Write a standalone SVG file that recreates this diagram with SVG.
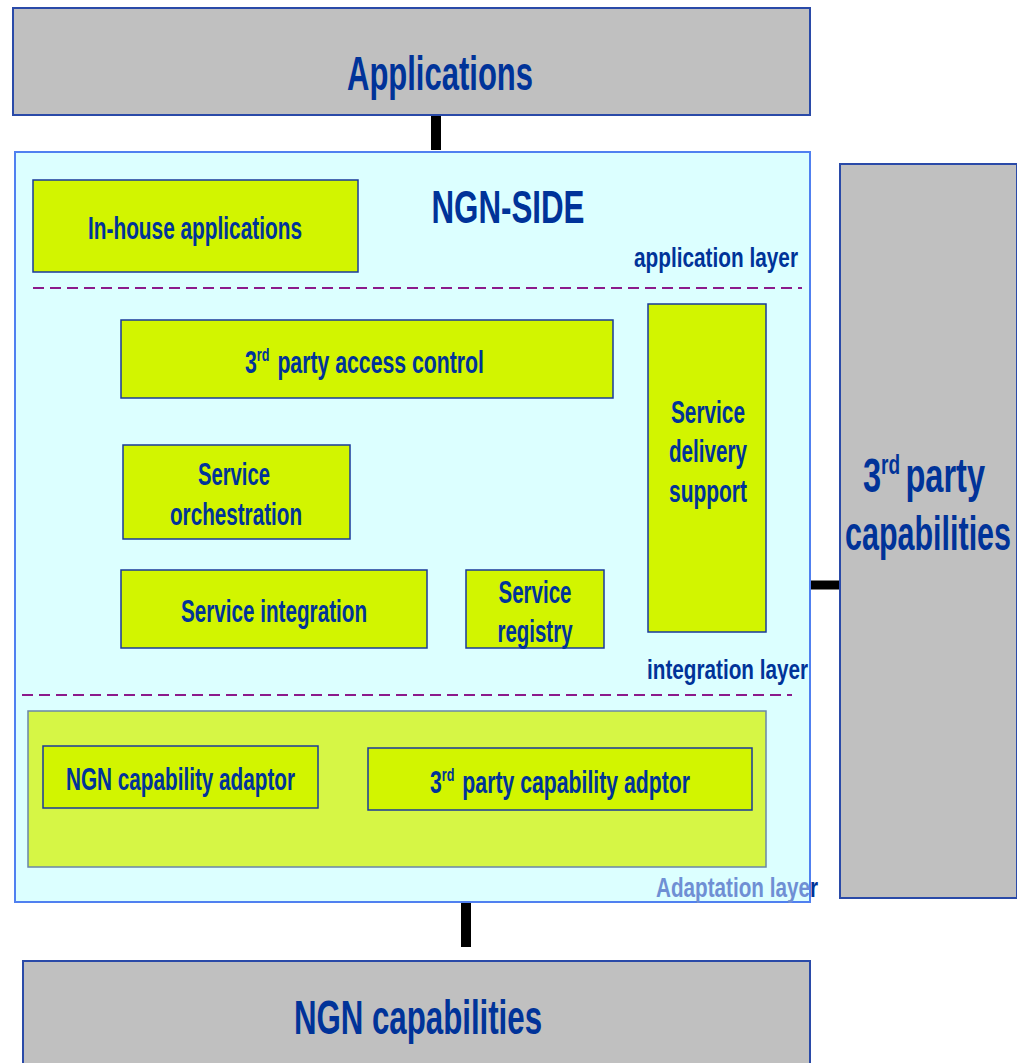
<svg xmlns="http://www.w3.org/2000/svg" width="1017" height="1063" viewBox="0 0 1017 1063">
<style>
.t{font-family:"Liberation Sans Narrow","Liberation Sans",Arial,sans-serif;font-weight:bold;fill:#003399}
.big{font-size:48px}
.box{font-size:32px}
.lay{font-size:27px}
.gray{fill:#c0c0c0;stroke:#2a4aa8;stroke-width:2}
.yg{fill:#d2f500;stroke:#1a3a9a;stroke-width:1.5}
.dash{stroke:#8b1a8b;stroke-width:2;stroke-dasharray:11 6;fill:none}
.conn{stroke:#000;fill:none}
</style>
<rect width="1017" height="1063" fill="#fff"/>
<g id="connectors">
<line class="conn" x1="436" y1="116" x2="436" y2="150" stroke-width="10"/>
<line class="conn" x1="810" y1="585" x2="840" y2="585" stroke-width="9"/>
<line class="conn" x1="466" y1="902" x2="466" y2="947" stroke-width="10"/>
</g>
<g id="applications">
<rect class="gray" x="13" y="8" width="797" height="107"/>
<text class="t big" x="440" y="90" text-anchor="middle" textLength="186" lengthAdjust="spacingAndGlyphs">Applications</text>
</g>
<g id="ngn-side">
<rect x="15" y="152" width="795" height="750" fill="#dcffff" stroke="#5080f0" stroke-width="2"/>
<text class="t" x="508" y="223" font-size="46" text-anchor="middle" textLength="153" lengthAdjust="spacingAndGlyphs">NGN-SIDE</text>
<text class="t lay" x="634" y="267" textLength="164" lengthAdjust="spacingAndGlyphs">application layer</text>
<line class="dash" x1="33" y1="288" x2="802" y2="288"/>
<text class="t lay" x="647" y="679" textLength="161" lengthAdjust="spacingAndGlyphs">integration layer</text>
<line class="dash" x1="22" y1="695" x2="792" y2="695"/>
<text class="t lay" x="656" y="897" textLength="162" lengthAdjust="spacingAndGlyphs"><tspan fill="#6f8fd4">Adaptation laye</tspan><tspan fill="#003399">r</tspan></text>
</g>
<g id="in-house-applications">
<rect class="yg" x="33" y="180" width="325" height="92"/>
<text class="t box" x="88" y="239" textLength="214" lengthAdjust="spacingAndGlyphs">In-house applications</text>
</g>
<g id="third-party-access-control">
<rect class="yg" x="121" y="320" width="492" height="78"/>
<text class="t box" x="245" y="373" textLength="239" lengthAdjust="spacingAndGlyphs">3<tspan font-size="19" dy="-12">rd</tspan><tspan dy="12" dx="12">party access control</tspan></text>
</g>
<g id="service-delivery-support">
<rect class="yg" x="648" y="304" width="118" height="328"/>
<text class="t box" x="708" y="423" text-anchor="middle" textLength="74" lengthAdjust="spacingAndGlyphs">Service</text>
<text class="t box" x="708" y="462" text-anchor="middle" textLength="78" lengthAdjust="spacingAndGlyphs">delivery</text>
<text class="t box" x="708" y="502" text-anchor="middle" textLength="78" lengthAdjust="spacingAndGlyphs">support</text>
</g>
<g id="service-orchestration">
<rect class="yg" x="123" y="445" width="227" height="94"/>
<text class="t box" x="234" y="485" text-anchor="middle" textLength="72" lengthAdjust="spacingAndGlyphs">Service</text>
<text class="t box" x="236" y="525" text-anchor="middle" textLength="132" lengthAdjust="spacingAndGlyphs">orchestration</text>
</g>
<g id="service-integration">
<rect class="yg" x="121" y="570" width="306" height="78"/>
<text class="t box" x="274" y="622" text-anchor="middle" textLength="186" lengthAdjust="spacingAndGlyphs">Service integration</text>
</g>
<g id="service-registry">
<rect class="yg" x="466" y="570" width="138" height="78"/>
<text class="t box" x="535" y="603" text-anchor="middle" textLength="73" lengthAdjust="spacingAndGlyphs">Service</text>
<text class="t box" x="535" y="642" text-anchor="middle" textLength="75" lengthAdjust="spacingAndGlyphs">registry</text>
</g>
<g id="adaptation-layer">
<rect x="28" y="711" width="738" height="156" fill="#d6f645" stroke="#6a86a8" stroke-width="1.5"/>
</g>
<g id="ngn-capability-adaptor">
<rect class="yg" x="43" y="746" width="275" height="62"/>
<text class="t box" x="66" y="790" textLength="229" lengthAdjust="spacingAndGlyphs">NGN capability adaptor</text>
</g>
<g id="third-party-capability-adaptor">
<rect class="yg" x="368" y="748" width="384" height="62"/>
<text class="t box" x="430" y="793" textLength="260" lengthAdjust="spacingAndGlyphs">3<tspan font-size="19" dy="-12">rd</tspan><tspan dy="12" dx="12">party capability adptor</tspan></text>
</g>
<g id="third-party-capabilities">
<rect class="gray" x="840" y="164" width="177" height="734"/>
<text class="t big" x="863" y="492" textLength="122" lengthAdjust="spacingAndGlyphs">3<tspan font-size="28" dy="-18">rd</tspan><tspan dy="18" dx="8">party</tspan></text>
<text class="t big" x="928" y="550" text-anchor="middle" textLength="166" lengthAdjust="spacingAndGlyphs">capabilities</text>
</g>
<g id="ngn-capabilities">
<rect class="gray" x="23" y="961" width="787" height="110"/>
<text class="t big" x="418" y="1034" text-anchor="middle" textLength="248" lengthAdjust="spacingAndGlyphs">NGN capabilities</text>
</g>
</svg>
